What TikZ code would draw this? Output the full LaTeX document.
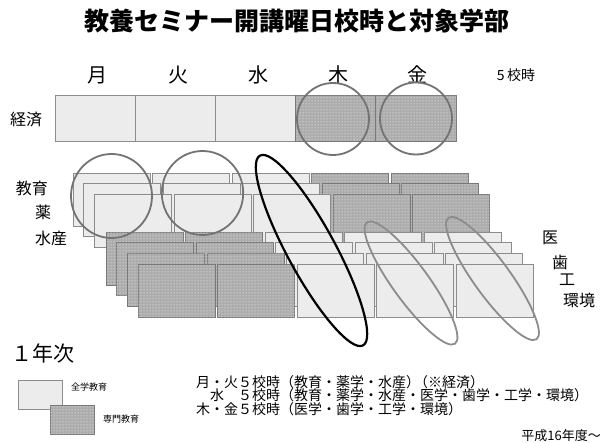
\documentclass[tikz,border=0pt]{standalone}
\usepackage{fontspec}
\setmainfont{Noto Sans CJK JP}
\usetikzlibrary{patterns}
\definecolor{lightfill}{RGB}{236,236,236}
\definecolor{cellborder}{RGB}{140,140,140}
\definecolor{dotfill}{RGB}{172,172,172}
\definecolor{dotborder}{RGB}{120,120,120}
\definecolor{ringgray}{RGB}{115,115,115}
\definecolor{ovalgray}{RGB}{140,140,140}
\begin{document}
\begin{tikzpicture}[x=1pt,y=-1pt,
  lightcell/.style={draw=cellborder, fill=lightfill, line width=0.8pt},
  dotcell/.style={draw=dotborder, fill=dotfill, line width=0.8pt,
    postaction={pattern=dots, pattern color=white}},
  ring/.style={draw=ringgray, line width=1.8pt},
  oval/.style={draw=ovalgray, line width=1.8pt},
  blackoval/.style={draw=black, line width=2.2pt},
  lbl/.style={inner sep=0pt, font=\fontsize{16}{18}\selectfont},
  day/.style={inner sep=0pt, font=\fontsize{20}{22}\selectfont},
  sched/.style={inner sep=0pt, anchor=west, font=\fontsize{14}{16}\selectfont},
  legtext/.style={inner sep=0pt, font=\fontsize{9}{10}\selectfont}]
\useasboundingbox (0,0) rectangle (602,443);

% title
\node[inner sep=0pt, font=\fontsize{25}{28}\selectfont\bfseries] (title) at (296.5,21) {教養セミナー開講曜日校時と対象学部};

% day labels
\node[day] (mon) at (97,75) {月};
\node[day] (tue) at (178,75) {火};
\node[day] (wed) at (258,75) {水};
\node[day] (thu) at (338,75) {木};
\node[day] (fri) at (417,75) {金};
\node[inner sep=0pt, font=\fontsize{14}{16}\selectfont] (period) at (516,75) {5\,校時};

% keizai row
\node[lbl] (keizai) at (26,120) {経済};
\foreach \k in {0,1,2} {
  \draw[lightcell] (55+80.2*\k,95) rectangle ++(80.2,46);
}
\foreach \k in {3,4} {
  \draw[dotcell] (55+80.2*\k,95) rectangle ++(80.2,46);
}

% group 1 (three layers)
\foreach \i in {0,1,2} {
  \foreach \k in {0,...,4} {
    \pgfmathsetmacro\xx{73+10.7*\i+79.5*\k}
    \pgfmathsetmacro\yy{173+10.7*\i}
    \ifnum\k<3
      \draw[lightcell] (\xx,\yy) rectangle ++(77,53);
    \else
      \draw[dotcell] (\xx,\yy) rectangle ++(77,53);
    \fi
  }
}
% group 2 (four layers)
\foreach \i in {0,1,2,3} {
  \foreach \k in {0,...,4} {
    \pgfmathsetmacro\xx{106+10.7*\i+79.5*\k}
    \pgfmathsetmacro\yy{232+10.9*\i}
    \ifnum\k<2
      \draw[dotcell] (\xx,\yy) rectangle ++(77,53);
    \else
      \draw[lightcell] (\xx,\yy) rectangle ++(77,53);
    \fi
  }
}

% rings on keizai row
\draw[ring] (333,119) ellipse (36pt and 36pt);
\draw[ring] (416,118.5) ellipse (36pt and 36pt);
% rings on group 1
\draw[ring] (111.5,196) ellipse (40.5pt and 42pt);
\draw[ring] (202.5,193) ellipse (40.7pt and 42pt);
% ovals on group 2
\draw[oval, rotate around={-54:(411,283)}] (411,283) ellipse (75pt and 18pt);
\draw[oval, rotate around={-54:(492.5,278.5)}] (492.5,278.5) ellipse (75pt and 18pt);
% black oval (Wednesday)
\draw[blackoval, rotate around={-61.5:(311.5,250.5)}] (311.5,250.5) ellipse (108pt and 24pt);

% faculty labels
\node[lbl] (kyoiku) at (32,188) {教育};
\node[lbl] (yaku) at (43,212) {薬};
\node[lbl] (suisan) at (51,238) {水産};
\node[lbl] (i) at (550,238) {医};
\node[lbl] (shi) at (560,262) {歯};
\node[lbl] (ko) at (567,280) {工};
\node[lbl] (kankyo) at (579,300) {環境};

% year label
\node[inner sep=0pt, font=\fontsize{21}{24}\selectfont] (year) at (43,353) {１年次};

% legend
\draw[lightcell] (18,380) rectangle (62,409);
\draw[dotcell] (50,405) rectangle (94,434);
\node[legtext] (zengaku) at (89,387) {全学教育};
\node[legtext] (senmon) at (121,419) {専門教育};

% schedule
\node[sched] (l1) at (196,382) {月・火５校時（教育・薬学・水産）\hspace{-6pt}（※経済）};
\node[sched] (l2) at (196,395.5) {　水　５校時（教育・薬学・水産・医学・歯学・工学・環境）};
\node[sched] (l3) at (196,409) {木・金５校時（医学・歯学・工学・環境）};
\node[inner sep=0pt, anchor=east, font=\fontsize{13}{15}\selectfont] (heisei) at (601,436) {平成16年度～};
\end{tikzpicture}
\end{document}
